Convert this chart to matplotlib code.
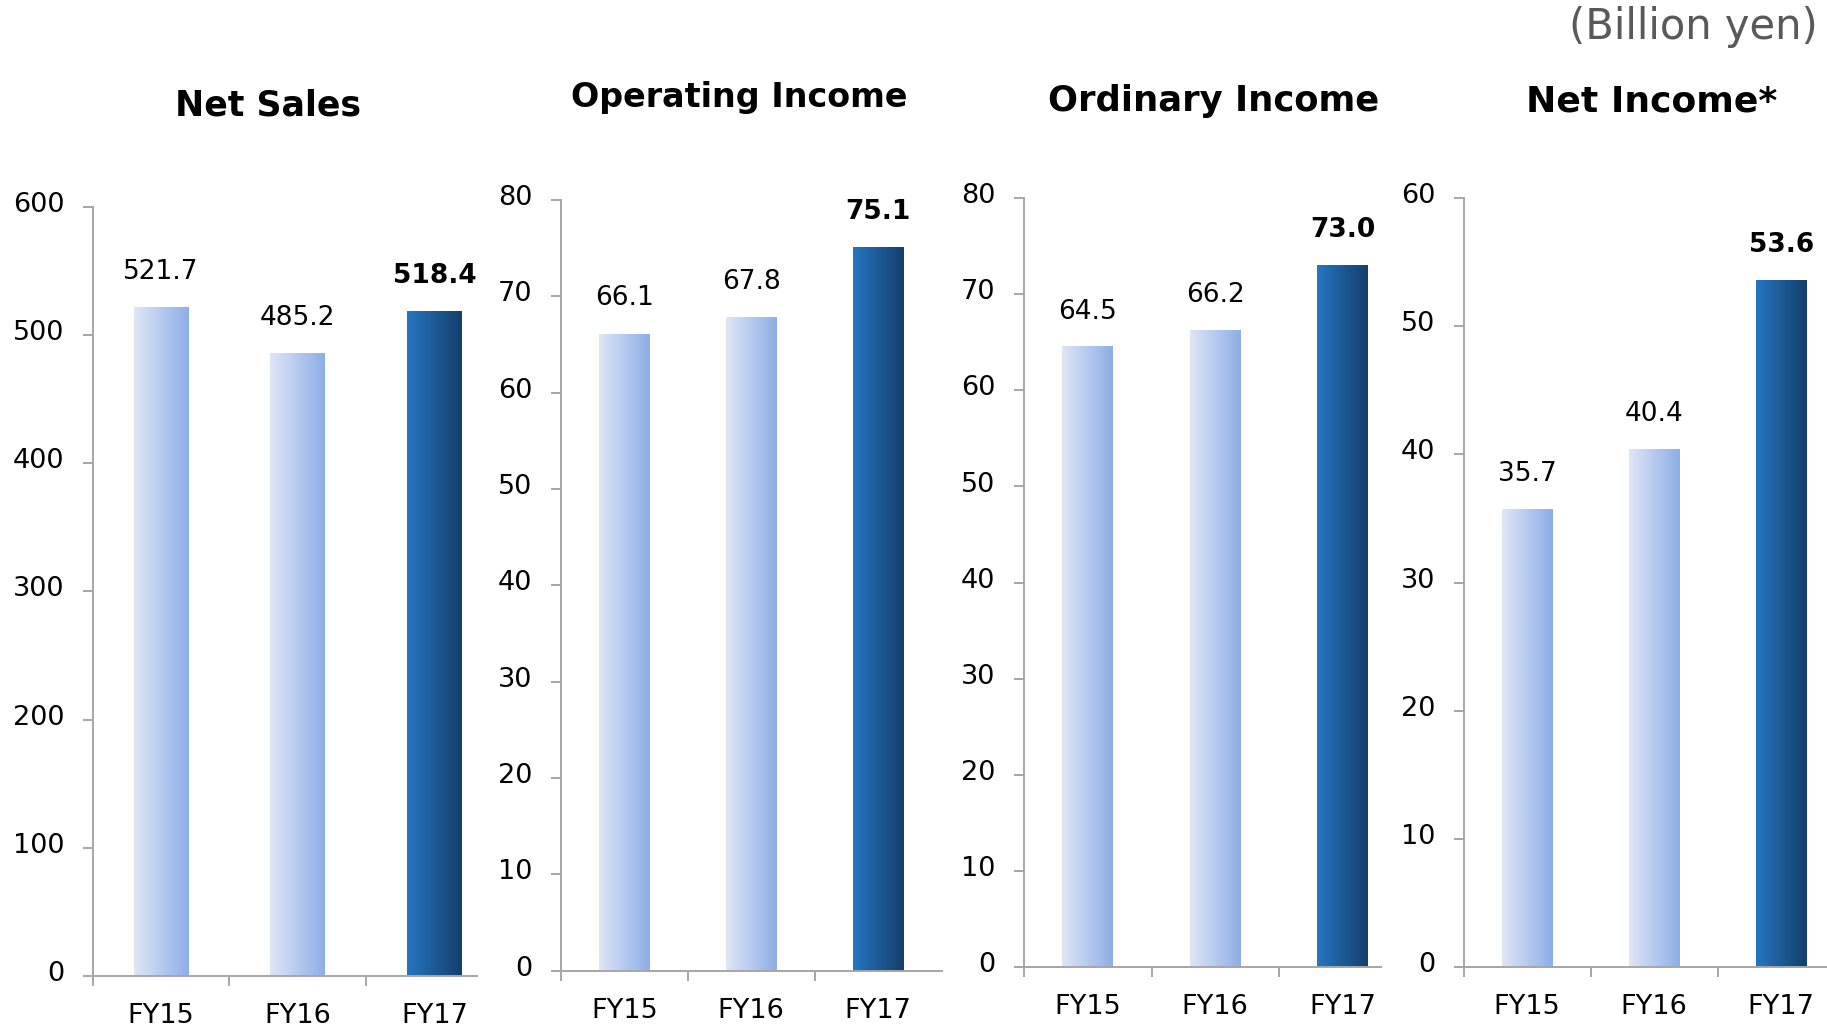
# Four bar panels of FY15-FY17 results (billion yen)
import numpy as np
import matplotlib
matplotlib.use('Agg')
import matplotlib.pyplot as plt
from matplotlib.transforms import ScaledTranslation

plt.rcParams['font.family'] = ['DejaVu Sans']

# Data
years = ['FY15', 'FY16', 'FY17']
titles = ['Net Sales', 'Operating Income', 'Ordinary Income', 'Net Income*']
net_sales = [521.7, 485.2, 518.4]
operating_income = [66.1, 67.8, 75.1]
ordinary_income = [64.5, 66.2, 73.0]
net_income = [35.7, 40.4, 53.6]
y_max = [600, 80, 80, 60]
y_step = [100, 10, 10, 10]

series = [net_sales, operating_income, ordinary_income, net_income]

# Light and dark gradient colours (left -> right)
light = [(223, 230, 246), (142, 174, 232)]
dark = [(37, 118, 193), (20, 62, 108)]

W, H = 1827, 1025
fig = plt.figure(figsize=(W / 100, H / 100), dpi=100)

# Axes boxes in pixels: left, bottom (from top), right, top (from top), x right limit
boxes = [
    (92.7, 976, 477, 206.7, 2.31),
    (561, 970.6, 941.5, 200, 2.5),
    (1024, 967, 1381, 198, 2.3),
    (1463.5, 967, 1827, 198, 2.36),
]
title_pos = [(268, 106), (739, 98), (1214, 101), (1652, 102)]
title_size = [25, 24, 25.5, 26]

grey = '#a6a6a6'


def gradient(c0, c1, n=64):
    c0 = np.array(c0) / 255.0
    c1 = np.array(c1) / 255.0
    t = np.linspace(0, 1, n)[:, None]
    return (c0 + (c1 - c0) * t)[None, :, :]


for i, vals in enumerate(series):
    l, b, r, t, xr = boxes[i]
    ax = fig.add_axes([l / W, 1 - b / H, (r - l) / W, (b - t) / H])
    x = np.arange(len(years))
    bars = ax.bar(x, vals, width=0.40, color='none', edgecolor='none')
    for j, bar in enumerate(bars):
        cols = dark if j == len(years) - 1 else light
        bx, bw, bh = bar.get_x(), bar.get_width(), bar.get_height()
        ax.imshow(gradient(*cols), extent=[bx, bx + bw, 0, bh],
                  aspect='auto', interpolation='bilinear', zorder=2)
        weight = 'bold' if j == len(years) - 1 else 'normal'
        ax.annotate(f'{vals[j]:.1f}', (bx + bw / 2, bh),
                    xytext=(0, 25.5), textcoords='offset points',
                    ha='center', va='center', fontsize=19,
                    fontweight=weight, color='black')

    ax.set_xlim(-0.5, xr)
    ax.set_ylim(0, y_max[i])
    ax.set_yticks(np.arange(0, y_max[i] + 1, y_step[i]))
    ax.set_xticks(x)
    ax.set_xticklabels(years)
    ax.set_xticks([-0.5, 0.5, 1.5], minor=True)

    for s in ['top', 'right']:
        ax.spines[s].set_visible(False)
    for s in ['left', 'bottom']:
        ax.spines[s].set_color(grey)
        ax.spines[s].set_linewidth(1.4)

    ax.tick_params(axis='y', length=7.5, width=1.4, color=grey,
                   pad=13, labelsize=19.5, labelcolor='black')
    ax.tick_params(axis='x', which='major', length=0, pad=19.5,
                   labelsize=19.5, labelcolor='black')
    ax.tick_params(axis='x', which='minor', length=7, width=1.4, color=grey)
    ax.patch.set_alpha(0)

    # y labels sit a little above their ticks in the reference
    shift = ScaledTranslation(0, 3.5 / 72, fig.dpi_scale_trans)
    for lab in ax.get_yticklabels():
        lab.set_transform(lab.get_transform() + shift)

    tx, ty = title_pos[i]
    fig.text(tx / W, 1 - ty / H, titles[i], ha='center', va='center',
             fontsize=title_size[i], fontweight='bold', color='black')

fig.text(1818 / W, 1 - 27 / H, '(Billion yen)', ha='right', va='center',
         fontsize=30, color='#595959')

fig.savefig('out.png', dpi=100)
